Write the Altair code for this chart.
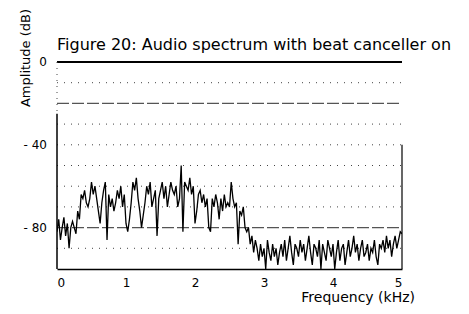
import altair as alt
import pandas as pd

FONT = "DejaVu Sans"

# Spectrum samples, every 0.025 kHz from 0 to 5 kHz
freq_step_khz = 0.025
amplitude_db = [
    -82, -76, -86, -80, -75, -84, -78, -90, -80, -77,
    -80, -83, -72, -76, -64, -66, -62, -68, -70, -66,
    -58, -64, -60, -66, -72, -78, -68, -62, -58, -86,
    -64, -70, -66, -72, -68, -62, -66, -60, -70, -64,
    -78, -82, -76, -68, -58, -62, -56, -66, -72, -80,
    -74, -68, -60, -64, -58, -70, -66, -62, -84, -66,
    -62, -58, -66, -60, -70, -64, -58, -62, -64, -60,
    -70, -66, -50, -82, -58, -60, -62, -56, -64, -60,
    -78, -72, -64, -62, -68, -64, -70, -66, -80, -82,
    -66, -70, -64, -68, -76, -66, -72, -64, -70, -68,
    -70, -58, -66, -70, -68, -88, -72, -74, -70, -80,
    -82, -80, -88, -84, -92, -86, -90, -96, -88, -94,
    -90, -100, -86, -92, -96, -88, -94, -90, -98, -92,
    -88, -94, -86, -96, -90, -84, -92, -98, -88, -90,
    -94, -86, -92, -88, -96, -90, -84, -92, -98, -88,
    -90, -94, -86, -100, -88, -92, -96, -86, -90, -94,
    -88, -100, -92, -86, -96, -90, -88, -98, -92, -86,
    -94, -90, -84, -92, -88, -96, -90, -86, -94, -92,
    -88, -96, -90, -92, -86, -94, -98, -88, -90, -86,
    -92, -84, -90, -86, -94, -88, -84, -90, -86, -82,
    -83,
]
freq_khz = [round(i * freq_step_khz, 3) for i in range(len(amplitude_db))]

x_tick_values = [0, 1, 2, 3, 4, 5]
y_tick_values = [0, -40, -80]
dotted_levels = [-10, -30, -40, -50, -60, -70, -90]
dashed_levels = [-20, -80]
solid_levels = [0]
left_axis_span = [-25, -100]
left_axis_dotted_span = [0, -25]
right_axis_span = [-40, -100]

title_text = "Figure 20: Audio spectrum with beat canceller on"
x_title_text = "Frequency (kHz)"
y_title_text = "Amplitude (dB)"

W, H = 345, 207

spec = pd.DataFrame({"f": freq_khz, "a": amplitude_db})
xs = alt.Scale(domain=[0, 5], nice=False, zero=False)
ys = alt.Scale(domain=[-100, 0], nice=False, zero=False)

line = alt.Chart(spec).mark_line(color="black", strokeWidth=1.3, clip=True).encode(
    x=alt.X("f:Q", scale=xs, axis=alt.Axis(
        values=x_tick_values, title=None, domain=True, domainColor="black",
        domainWidth=1.5, ticks=False, grid=False, labelFont=FONT,
        labelFontSize=12, labelColor="black", labelPadding=8)),
    y=alt.Y("a:Q", scale=ys, axis=None),
)

def hrules(levels, **kw):
    return alt.Chart(pd.DataFrame({"lvl": levels})).mark_rule(**kw).encode(
        y=alt.Y("lvl:Q", scale=ys, axis=None),
        x=alt.value(0), x2=alt.value(W),
    )

g_dot = hrules(dotted_levels, color="#444", strokeDash=[1, 6], strokeWidth=1)
g_dash = hrules(dashed_levels, color="#555", strokeDash=[12, 3], strokeWidth=1.2)
g_solid = hrules(solid_levels, color="black", strokeWidth=2)

def vrule(span, xpx, **kw):
    return alt.Chart(pd.DataFrame({"t": [span[0]], "b": [span[1]]})).mark_rule(**kw).encode(
        x=alt.value(xpx),
        y=alt.Y("t:Q", scale=ys, axis=None), y2="b:Q",
    )

left_ax = vrule(left_axis_span, 0, color="black", strokeWidth=1.5)
left_dot = vrule(left_axis_dotted_span, 0, color="#444", strokeDash=[1, 5])
right_ax = vrule(right_axis_span, W, color="black", strokeWidth=1.2)

ylabels = alt.Chart(pd.DataFrame({"v": y_tick_values})).transform_calculate(
    lab="datum.v == 0 ? '0' : '- ' + abs(datum.v)"
).mark_text(font=FONT, fontSize=12, color="black", align="right", baseline="middle").encode(
    y=alt.Y("v:Q", scale=ys, axis=None),
    x=alt.value(-10),
    text="lab:N",
)

def label(text, **kw):
    return alt.Chart(pd.DataFrame({"t": [text]})).mark_text(
        font=FONT, color="black", **kw).encode(text="t:N")

title = label(title_text, fontSize=16, align="left", baseline="alphabetic").encode(
    x=alt.value(0), y=alt.value(-12))
xtitle = label(x_title_text, fontSize=14, align="right", baseline="alphabetic").encode(
    x=alt.value(358), y=alt.value(240))
ytitle = label(y_title_text, fontSize=13, align="center", baseline="alphabetic",
               angle=270).encode(x=alt.value(-27), y=alt.value(-4))

chart = alt.layer(
    g_dot, g_dash, g_solid, left_dot, left_ax, right_ax, line, ylabels,
    title, xtitle, ytitle
).properties(
    width=W, height=H,
    autosize=alt.AutoSizeParams(type="none"),
    padding={"left": 49, "top": 54, "right": 59, "bottom": 37},
).configure_view(stroke=None)

chart.save("out.html", embed_options={"renderer": "svg", "actions": False})
